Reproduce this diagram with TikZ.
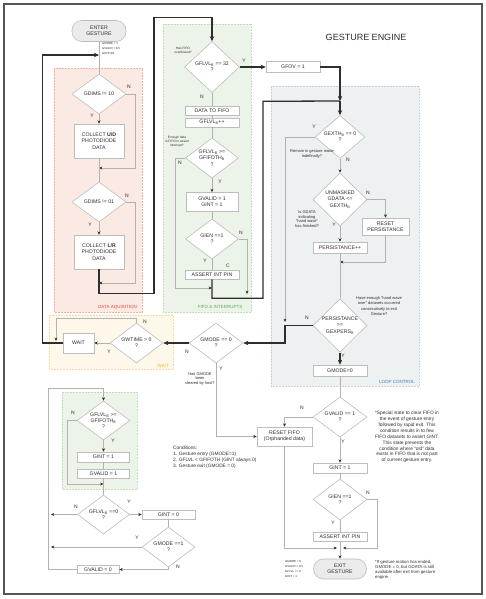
\documentclass[tikz,border=0pt]{standalone}
\usepackage{fontspec}
\setmainfont{Liberation Sans}
\usepackage{tikz}
\usetikzlibrary{shapes.geometric,arrows.meta,positioning}

\definecolor{framegray}{HTML}{555555}
\definecolor{flowgray}{HTML}{B2B2B2}
\definecolor{flowdark}{HTML}{2E2E2E}
\definecolor{boxgray}{HTML}{BDBDBD}
\definecolor{pillgray}{HTML}{EBEBEB}
\definecolor{daqfill}{HTML}{FBEAE3}
\definecolor{daqline}{HTML}{EDB3A6}
\definecolor{daqtext}{HTML}{E0463C}
\definecolor{fifofill}{HTML}{ECF3E8}
\definecolor{fifoline}{HTML}{C3DDB9}
\definecolor{fifotext}{HTML}{5DAE57}
\definecolor{loopfill}{HTML}{EDF1F1}
\definecolor{loopline}{HTML}{C3D3DC}
\definecolor{looptext}{HTML}{3C7FC6}
\definecolor{waitfill}{HTML}{FDF8EA}
\definecolor{waitline}{HTML}{F1DDA6}
\definecolor{waittext}{HTML}{F2B233}

\newcommand{\boxfont}{\fontsize{5.2}{6.3}\selectfont}
\newcommand{\ynfont}{\fontsize{5}{6}\selectfont}
\newcommand{\notefont}{\fontsize{4}{4.6}\selectfont}
\newcommand{\smallnotefont}{\fontsize{3.2}{4}\selectfont}
\newcommand{\statefont}{\fontsize{2.9}{5.2}\selectfont}
\newcommand{\bignotefont}{\fontsize{4.8}{5.9}\selectfont}
\newcommand{\zonefont}{\fontsize{4.5}{5}\selectfont}
\newcommand{\titlefont}{\fontsize{9}{10}\selectfont}

\tikzset{
    process/.style={
           rectangle,
           draw=boxgray, fill=white, line width=0.6pt,
           minimum width=54pt,
           minimum height=9pt,
           inner sep=0.5pt,
           align=center,
           text=flowdark,
           font=\boxfont
           },
    decision/.style={
           diamond, aspect=1.3,
           draw=boxgray, fill=white, line width=0.6pt,
           minimum width=54pt,
           minimum height=40pt,
           inner sep=0pt,
           align=center,
           text=flowdark,
           font=\boxfont
           },
    terminal/.style={
           rectangle, rounded corners=10pt,
           draw=boxgray, fill=pillgray, line width=0.6pt,
           minimum width=54pt,
           minimum height=21pt,
           align=center,
           text=flowdark,
           font=\boxfont
           },
    flow/.style={draw=flowgray, line width=0.6pt},
    main/.style={draw=flowdark, line width=1.3pt, >={Stealth[length=5pt,width=4.4pt]}},
    yn/.style={font=\ynfont, inner sep=0pt, text=flowdark},
    note/.style={font=\notefont, inner sep=0pt, align=center, text=flowdark},
    zone/.style={densely dotted, line width=0.5pt},
    zonelabel/.style={font=\zonefont, inner sep=0pt, anchor=south east},
}

\begin{document}
\begin{tikzpicture}[x=1pt,y=-1pt,>={Stealth[length=3.4pt,width=3pt,color=flowdark]}]

\useasboundingbox (0,0) rectangle (486,599);
\fill[white] (0,0) rectangle (486,599);
\draw[draw=framegray, line width=1.4pt] (4,4) rectangle (482,594);

% zones
\filldraw[zone, fill=daqfill, draw=daqline] (54,68) rectangle (142,312);
\filldraw[zone, fill=fifofill, draw=fifoline] (163,24) rectangle (251,312);
\filldraw[zone, fill=loopfill, draw=loopline] (271,86) rectangle (419,386);
\filldraw[zone, fill=waitfill, draw=waitline] (49,315) rectangle (173,369);
\filldraw[zone, fill=fifofill, draw=fifoline] (62,392) rectangle (137,489);

\node[zonelabel, text=daqtext] (LDAQ) at (137,310) {DATA AQUISITION};
\node[zonelabel, text=fifotext, anchor=south] (LFIFO) at (220,309) {FIFO \& INTERRUPTS};
\node[zonelabel, text=looptext] (LLOOP) at (415,384) {LOOP CONTROL};
\node[zonelabel, text=waittext] (LWAIT) at (169,368) {WAIT};

\node[text=flowdark, font=\titlefont] (TITLE) at (366,37) {GESTURE ENGINE};

% data aquisition
\node[terminal] (ENTER) at (99,31) {ENTER\\GESTURE};
\node[decision, below of=ENTER, node distance=63pt] (GDIMSA) {GDIMS != 10};
\node[process, below of=GDIMSA, node distance=47pt,
      minimum width=50pt, minimum height=34pt] (COLLECTUD)
     {COLLECT \textbf{U/D}\\PHOTODIODE\\DATA};
\node[decision, below of=COLLECTUD, node distance=61pt] (GDIMSB) {GDIMS != 01};
\node[process, below of=GDIMSB, node distance=50pt,
      minimum width=50pt, minimum height=34pt] (COLLECTLR)
     {COLLECT \textbf{L/R}\\PHOTODIODE\\DATA};

\node[note, font=\statefont, anchor=north west, align=left] (ENTERSTATE) at (102,42)
     {GMODE = 1\\GVALID = 0/1\\GINT=0/1};

\coordinate (jA0) at (99,55);
\coordinate (jA1) at (99,168);
\coordinate (jA2) at (99,283);

\draw[flow] (ENTER) -- (GDIMSA);
\draw[flow,->] (GDIMSA) -- (COLLECTUD);
\draw[flow,->] (GDIMSA.east) -- ++(9,0) |- (jA1);
\draw[flow] (COLLECTUD) -- (GDIMSB);
\draw[flow,->] (GDIMSB) -- (COLLECTLR);
\draw[flow,->] (GDIMSB.east) -- ++(9,0) |- (jA2);

\node[yn] (yA1) at (129,87) {N};
\node[yn] (yA2) at (92,116) {Y};
\node[yn] (yA3) at (127,196) {N};
\node[yn] (yA4) at (90,225) {Y};

% fifo and interrupts
\node[decision, minimum width=55pt, minimum height=51pt] (FIFOFULL) at (212,67)
     {GFLVL\textsubscript{B} == 32\\?};
\node[process, minimum height=11pt] (GFOV) at (293,67) {GFOV = 1};
\node[process, below of=FIFOFULL, node distance=43.5pt] (TOFIFO) {DATA TO FIFO};
\node[process, below of=TOFIFO, node distance=12pt] (FIFOINC) {GFLVL\textsubscript{B}++};
\node[decision, below of=FIFOINC, node distance=35.5pt, minimum width=53pt] (FIFOTH)
     {GFLVL\textsubscript{B} >=\\GFIFOTH\textsubscript{B}\\?};
\node[process, below of=FIFOTH, node distance=44pt, minimum width=52pt,
      minimum height=19pt] (VALIDINT) {GVALID = 1\\GINT = 1};
\node[decision, below of=VALIDINT, node distance=37pt, minimum width=53pt] (GIENA)
     {GIEN ==1\\?};
\node[process, below of=GIENA, node distance=35.5pt] (ASSERTA) {ASSERT INT PIN};

\node[note, font=\smallnotefont] (NOVER) at (183,50) {Has FIFO\\overflowed?};
\node[note, font=\smallnotefont] (NENOUGH) at (177,142)
     {Enough data\\in FIFO to assert\\interrupt?};

\coordinate (jB1) at (212,288);
\coordinate (jB2) at (247,294);
\coordinate (jC0) at (340,101);

\draw[main,->] (COLLECTLR.south) -- ++(0,24) -| ++(55,-276) -| (FIFOFULL.north);
\draw[main,->] (FIFOFULL) -- (GFOV);
\draw[flow] (FIFOFULL) -- (TOFIFO);
\draw[flow] (TOFIFO) -- (FIFOINC);
\draw[flow] (FIFOINC) -- (FIFOTH);
\draw[flow,->] (FIFOTH) -- (VALIDINT);
\draw[flow,->] (FIFOTH.west) -- ++(-10,0) |- (jB1);
\draw[flow] (VALIDINT) -- (GIENA);
\draw[flow] (GIENA) -- (ASSERTA);
\draw[flow,->] (GIENA.east) -| (jB2);
\draw[main] (ASSERTA.south) -- ++(0,19) -| ++(51,-197) -- (jC0);
\draw[main,->] (GFOV.east) -| (jC0);

\node[yn] (yB1) at (244,61) {Y};
\node[yn] (yB2) at (202,97) {N};
\node[yn] (yB3) at (180,163) {N};
\node[yn] (yB4) at (220,182) {Y};
\node[yn] (yB5) at (241,233) {N};
\node[yn] (yB6) at (205,261) {Y};
\node[yn] (yB7) at (228,266) {C};

% loop control
\node[decision, minimum width=50pt, minimum height=43pt] (GEXTH) at (340,137)
     {GEXTH\textsubscript{B} == 0\\?};
\node[decision, below of=GEXTH, node distance=62.5pt, aspect=1,
      minimum height=53pt] (UNMASKED) {UNMASKED\\GDATA <=\\GEXTH\textsubscript{B}};
\node[process, below of=UNMASKED, node distance=48pt, minimum height=11pt] (PERSINC)
     {PERSISTANCE++};
\node[process, minimum width=47pt, minimum height=17pt] (PERSRESET) at (385.5,226.5)
     {RESET\\PERSISTANCE};
\node[decision, below of=PERSINC, node distance=78pt, aspect=1,
      minimum height=53pt] (PERSIST) {PERSISTANCE\\>=\\GEXPERS\textsubscript{B}};
\node[process, below of=PERSIST, node distance=45pt, minimum height=11pt] (GMODEZERO)
     {GMODE=0};

\node[note] (NREMAIN) at (312,154) {Remain in gesture mode\\indefinatly?};
\node[note] (NWAVE) at (307,219)
     {Is GDATA\\indicating\\``hand wave''\\has finished?};
\node[note, font=\fontsize{4}{5.4}\selectfont] (NENOUGHWAVE) at (379,306)
     {Have enough ``hand wave\\over'' datasets occurred\\consecutively to exit\\Gesture?};

\coordinate (jC1) at (285,322);
\coordinate (jC2) at (340,262);
\coordinate (jC3) at (285,343);

\draw[main,->] (jC0) -- (GEXTH.north);
\draw[flow,->] (GEXTH.west) -| (jC1);
\draw[flow,->] (GEXTH) -- (UNMASKED);
\draw[flow,->] (UNMASKED.east) -| (PERSRESET.north);
\draw[flow,->] (UNMASKED) -- (PERSINC);
\draw[flow,->] (PERSRESET.south) |- (jC2);
\draw[flow] (PERSINC) -- (PERSIST);
\draw[main,->] (PERSIST) -- (GMODEZERO);

\node[yn] (yC1) at (314,127) {Y};
\node[yn] (yC2) at (348,160) {N};
\node[yn] (yC3) at (368,193) {N};
\node[yn] (yC4) at (334,225) {Y};
\node[yn] (yC5) at (307,318) {N};
\node[yn] (yC6) at (343,356) {Y};

% wait
\node[decision] (GMODEQ) at (216,343) {GMODE == 0\\?};
\node[decision, minimum width=53pt] (GWTIME) at (136.5,343) {GWTIME > 0\\?};
\node[process, minimum width=31pt, minimum height=20pt] (WAIT) at (78.5,343) {WAIT};

\node[note] (NHOST) at (200,379) {Has GMODE\\been\\cleared by host?};

\coordinate (jD1) at (56,341);

\draw[main,->] (PERSIST.west) -| (jC3) -- (GMODEQ.east);
\draw[main,->] (GMODEQ) -- (GWTIME);
\draw[flow,->] (GWTIME) -- (WAIT);
\draw[flow,->] (GWTIME.north) -- ++(0,-4) -| (jD1);
\draw[main,->] (WAIT.west) -| ++(-20,-288) -- (jA0);

\node[yn] (yD1) at (187,352) {N};
\node[yn] (yD2) at (221,369) {Y};
\node[yn] (yD3) at (145,322) {N};
\node[yn] (yD4) at (109,352) {Y};

% exit
\node[decision, below of=GMODEZERO, node distance=46.5pt] (GVALIDQ) {GVALID == 1\\?};
\node[process, below of=GVALIDQ, node distance=51pt, minimum height=10pt] (GINTSET)
     {GINT = 1};
\node[decision, below of=GINTSET, node distance=31.5pt, minimum height=41pt] (GIENB)
     {GIEN ==1\\?};
\node[process, below of=GIENB, node distance=37pt] (ASSERTB) {ASSERT INT PIN};
\node[terminal, below of=ASSERTB, node distance=32.5pt, minimum width=53pt,
      minimum height=20pt] (EXIT) {EXIT\\GESTURE};
\node[process, minimum width=55pt, minimum height=19pt] (RESETFIFO) at (284.5,436.5)
     {RESET FIFO\\(Orphanded data)};

\node[note, font=\bignotefont] (NSPECIAL) at (407,437)
     {*Special state to clear FIFO in\\the event of gesture entry\\followed by rapid exit. This\\
      condition results in to few\\FIFO datasets to assert GINT.\\This state prevents the\\
      condition where ``old'' data\\exists in FIFO that is not part\\of current gesture entry.};
\node[note, font=\bignotefont, anchor=north west, align=left] (NCOND) at (173,446)
     {Conditions:\\1. Gesture entry (GMODE=1)\\2. GFLVL < GFIFOTH (GINT always 0)\\
      3. Gesture exit (GMODE = 0)};
\node[note, font=\statefont, anchor=north west, align=left] (EXITSTATE) at (285,560)
     {GMODE = 0\\GVALID = 0/1\\GFLVL == 0\\GINT = 1};
\node[note, font=\fontsize{4.3}{5}\selectfont, anchor=north west, align=left] (NENDED)
     at (375,560)
     {*If gesture motion has ended,\\GMODE = 0, but GDATA is still\\available after exit from gesture\\engine.};

\coordinate (jC4) at (337,548);
\coordinate (jC5) at (343,548);

\draw[flow] (GMODEZERO) -- (GVALIDQ);
\draw[flow,->] (GVALIDQ.west) -| (RESETFIFO.north);
\draw[flow,->] (GVALIDQ) -- (GINTSET);
\draw[flow] (GINTSET) -- (GIENB);
\draw[flow] (GIENB) -- (ASSERTB);
\draw[flow,->] (ASSERTB) -- (EXIT);
\draw[flow,->] (GIENB.east) -| ++(10,48.5) -- (jC5);
\draw[flow,->] (RESETFIFO.south) |- (jC4);
\draw[flow,->] (GMODEQ.south) |- (RESETFIFO.west);

\node[yn] (yC7) at (302,408) {N};
\node[yn] (yC8) at (343,442) {Y};
\node[yn] (yC9) at (368,493) {N};
\node[yn] (yC10) at (333,523) {Y};

% fifo drain
\node[decision, minimum width=53pt, minimum height=39pt] (BFIFOTH) at (103.5,420.5)
     {GFLVL\textsubscript{B} >=\\GFIFOTH\textsubscript{B}\\?};
\node[process, below of=BFIFOTH, node distance=36.5pt, minimum width=52pt,
      minimum height=10pt] (BGINTSET) {GINT = 1};
\node[process, below of=BGINTSET, node distance=16.5pt, minimum width=52pt] (BGVALIDSET)
     {GVALID = 1};
\node[decision, below of=BGVALIDSET, node distance=41pt, minimum width=52pt,
      minimum height=39pt] (BFIFOEMPTY) {GFLVL\textsubscript{B} ==0\\?};
\node[process, minimum width=53pt] (BGINTCLR) at (168.5,514.5) {GINT = 0};
\node[decision, below of=BGINTCLR, node distance=32.5pt, minimum width=53pt] (BGMODEQ)
     {GMODE ==1\\?};
\node[process, minimum width=42pt, minimum height=8pt] (BGVALIDCLR) at (98,569.5)
     {GVALID = 0};

\coordinate (jE1) at (103.5,484);
\coordinate (jE2) at (51,514.5);
\coordinate (jE3) at (51,547);

\draw[flow,->] (BGVALIDCLR.west) -| ++(-28,-181.5) -| (BFIFOTH.north);
\draw[flow,->] (BFIFOTH.west) -- ++(-9,0) |- (jE1);
\draw[flow,->] (BFIFOTH) -- (BGINTSET);
\draw[flow] (BGINTSET) -- (BGVALIDSET);
\draw[flow] (BGVALIDSET) -- (BFIFOEMPTY);
\draw[flow,->] (BFIFOEMPTY) -- (BGINTCLR);
\draw[flow,->] (BFIFOEMPTY.west) -- (jE2);
\draw[flow] (BGINTCLR) -- (BGMODEQ);
\draw[flow,->] (BGMODEQ.west) -- (jE3);
\draw[flow,->] (BGMODEQ.south) |- (BGVALIDCLR.east);

\node[yn] (yE1) at (73,413) {N};
\node[yn] (yE2) at (113,441) {Y};
\node[yn] (yE3) at (76,507) {N};
\node[yn] (yE4) at (129,502) {Y};
\node[yn] (yE5) at (137,538) {Y};
\node[yn] (yE6) at (178,567) {N};

\end{tikzpicture}
\end{document}
